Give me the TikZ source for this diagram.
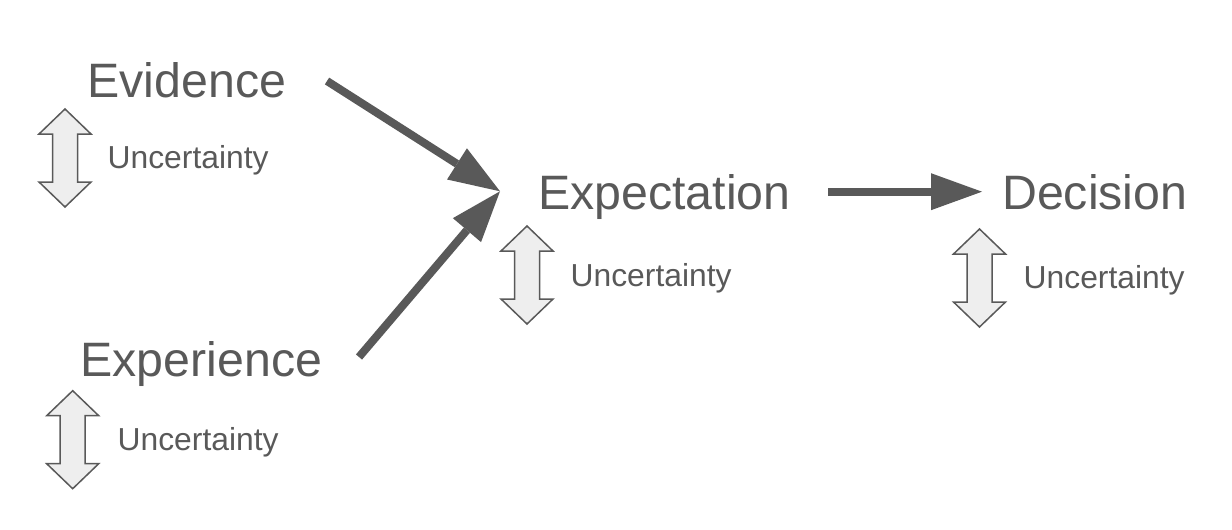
\documentclass[tikz,border=0pt]{standalone}
\usepackage{fontspec}
\setmainfont{Liberation Sans}
\usetikzlibrary{arrows.meta}
\definecolor{txtgray}{HTML}{595959}
\definecolor{arrfill}{HTML}{EEEEEE}
\begin{document}
\begin{tikzpicture}[x=1pt,y=-1pt,
  big/.style={font=\fontsize{48.3}{58}\selectfont, text=txtgray, inner sep=0pt, anchor=base west},
  small/.style={font=\fontsize{31.8}{38}\selectfont, text=txtgray, inner sep=0pt, anchor=base west},
  flow/.style={draw=txtgray, line width=8pt, -{Triangle[length=51pt,width=37pt,line width=0pt]}},
  uarrow/.pic={\path[draw=txtgray, fill=arrfill, line width=1.5pt, line join=miter]
     (0,-49) -- (26,-24) -- (12.5,-24) -- (12.5,24) -- (26,24) -- (0,49)
     -- (-26,24) -- (-12.5,24) -- (-12.5,-24) -- (-26,-24) -- cycle;}
]
\useasboundingbox (0,0) rectangle (1232,530);
% labels
\node[big] (evidence) at (87.3,97.3) {Evidence};
\node[big] (experience) at (80.3,376.7) {Experience};
\node[big] (expectation) at (538,209) {Expectation};
\node[big] (decision) at (1002,209.3) {Decision};
\node[small] (unc1) at (107.5,168.3) {Uncertainty};
\node[small] (unc2) at (570.5,286) {Uncertainty};
\node[small] (unc3) at (1023.5,288) {Uncertainty};
\node[small] (unc4) at (117.5,450.7) {Uncertainty};
% uncertainty double arrows
\pic (ua1) at (65,158) {uarrow};
\pic (ua2) at (527,275) {uarrow};
\pic (ua3) at (979.5,278) {uarrow};
\pic (ua4) at (72.7,439.7) {uarrow};
% connector ends
\coordinate (evout) at (327,81);
\coordinate (xpout) at (359,357);
\coordinate (join) at (500,191.3);
\coordinate (expout) at (828,191.7);
\coordinate (decin) at (982,191.7);
% connectors
\draw[flow] (evout) -- (join);
\draw[flow] (xpout) -- (join);
\draw[flow] (expout) -- (decin);
\end{tikzpicture}
\end{document}
